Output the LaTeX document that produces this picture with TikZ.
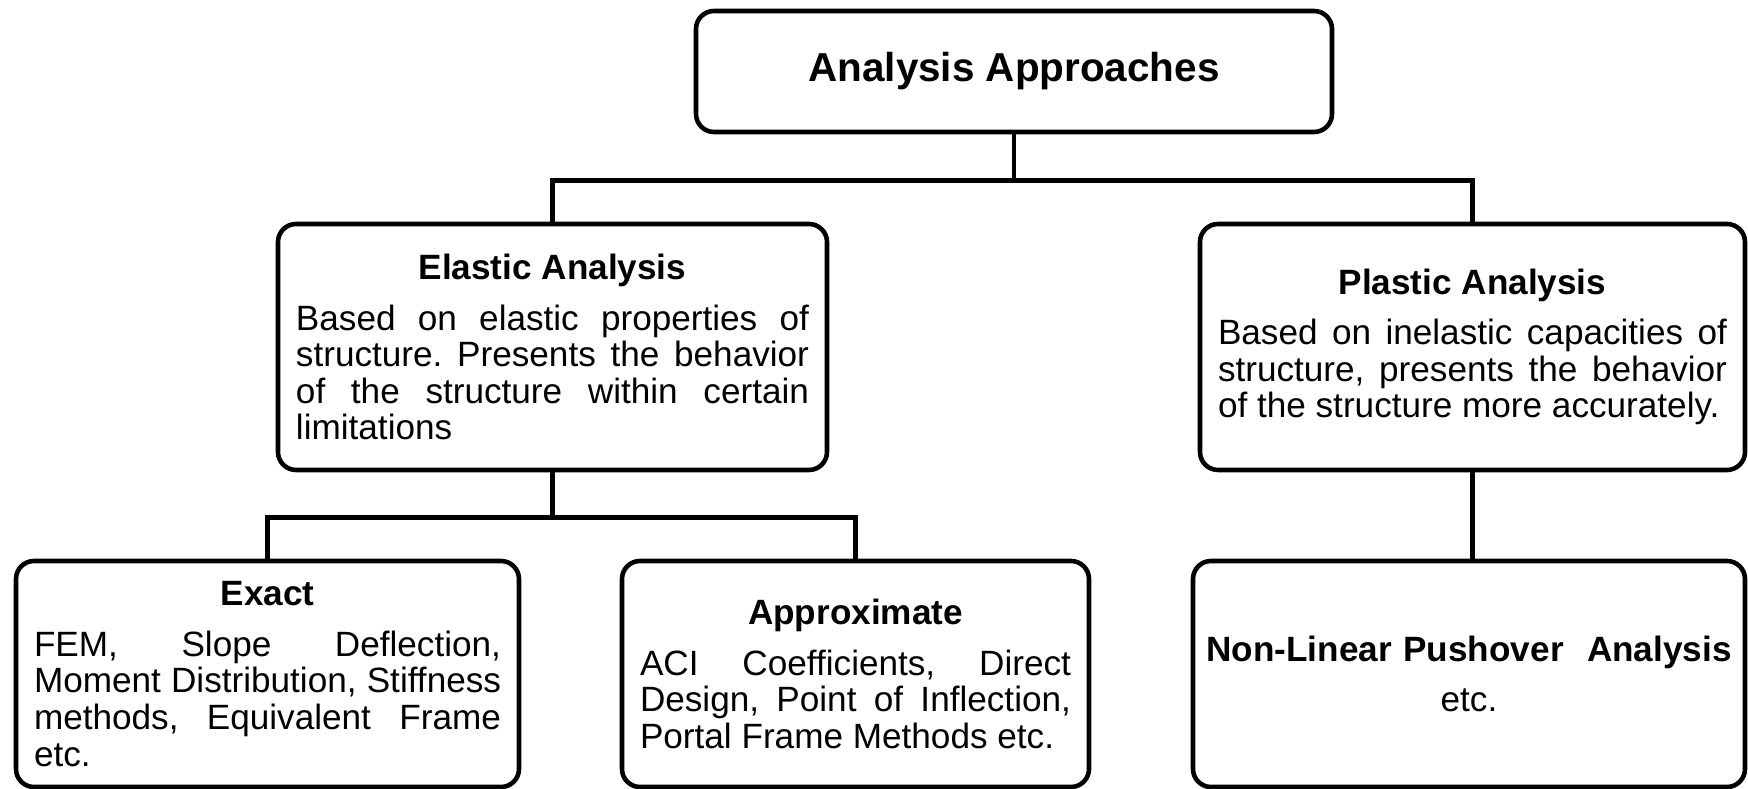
\documentclass[tikz,border=0pt]{standalone}
\usepackage{fontspec}
\setmainfont{Liberation Sans}
\frenchspacing
\tikzset{
  apbox/.style={draw, rounded corners=1.8mm, line width=1.3pt, inner xsep=0.18cm, inner ysep=0pt,
                font=\fontsize{10}{10.4}\selectfont},
  link/.style={line width=1.3pt}
}
\newcommand{\boxhead}[1]{{\centering\bfseries #1\par}\vspace{4pt}\noindent}

\begin{document}
\begin{tikzpicture}
  \useasboundingbox (0,0) rectangle (17.48,-7.89);

  \begin{scope}[every node/.style={apbox}]
    \node[minimum width=6.36cm, minimum height=1.21cm, font=\fontsize{11.5}{13}\selectfont\bfseries]
      (top) at (10.14,-0.715) {Analysis Approaches};
    \node[text width=5.13cm, align=justify, minimum height=2.46cm] (elastic) at (5.525,-3.47)
      {\boxhead{Elastic Analysis}Based on elastic properties of\linebreak structure. Presents the behavior\linebreak of the structure within certain\linebreak limitations};
    \node[text width=5.09cm, align=justify, minimum height=2.46cm] (plastic) at (14.725,-3.47)
      {\boxhead{Plastic Analysis}Based on inelastic capacities of\linebreak structure, presents the behavior\linebreak of the structure more accurately.};
    \node[text width=4.67cm, align=justify, minimum height=2.26cm] (exact) at (2.675,-6.74)
      {\boxhead{Exact}FEM, Slope Deflection,\linebreak Moment Distribution, Stiffness\linebreak methods, Equivalent Frame\linebreak etc.};
    \node[text width=4.31cm, align=justify, minimum height=2.26cm] (approx) at (8.555,-6.74)
      {\boxhead{Approximate}ACI Coefficients, Direct\linebreak Design, Point of Inflection,\linebreak Portal Frame Methods etc.};
    \node[text width=5.44cm, inner xsep=0.04cm, align=center, minimum height=2.26cm] (nonlinear) at (14.69,-6.74)
      {\textbf{Non-Linear Pushover~ Analysis}\\[4pt] etc.};
  \end{scope}

  % connectors
  \draw[link] (top.south) -- ++(0,-0.46) coordinate (split1);
  \draw[link] (split1) -| (elastic.north);
  \draw[link] (split1) -| (plastic.north);
  \draw[link] (elastic.south) -- ++(0,-0.45) coordinate (split2);
  \draw[link] (split2) -| (exact.north);
  \draw[link] (split2) -| (approx.north);
  \draw[link] (plastic.south) -- (plastic.south |- nonlinear.north);

\end{tikzpicture}
\end{document}
